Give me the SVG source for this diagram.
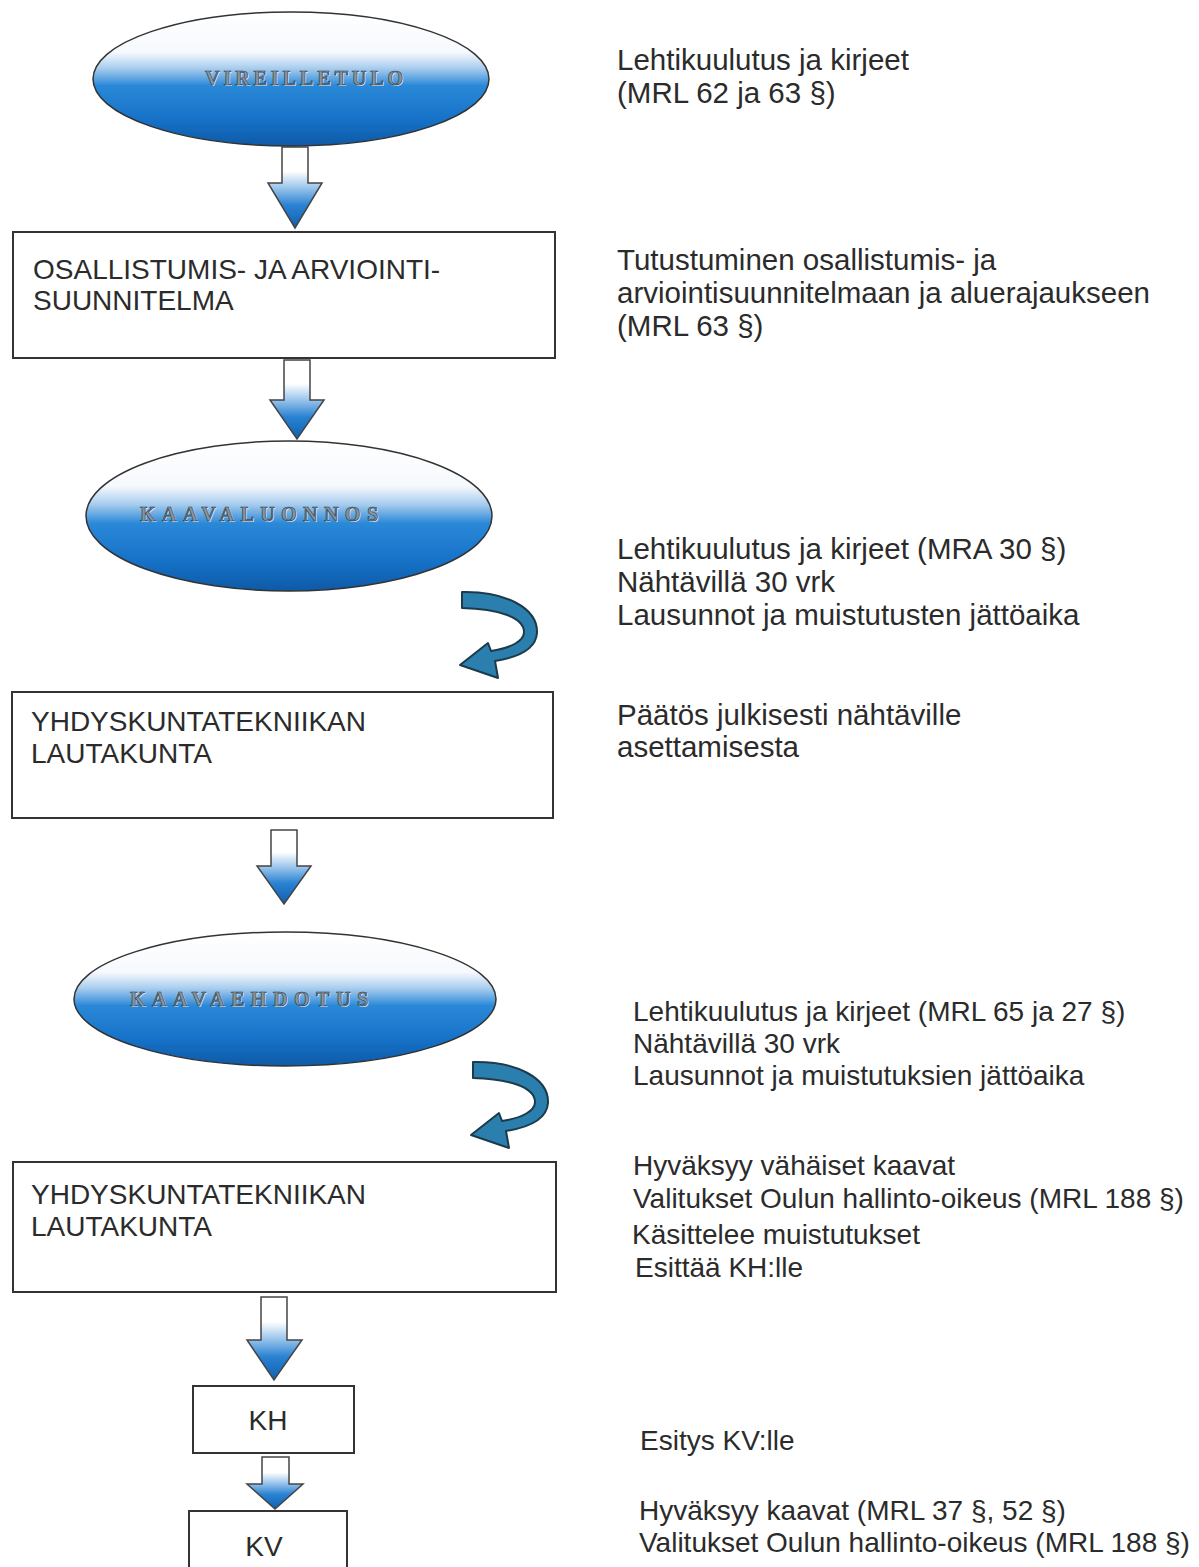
<svg xmlns="http://www.w3.org/2000/svg" width="1199" height="1567" viewBox="0 0 1199 1567">
<defs>
<linearGradient id="ellG" x1="0" y1="0" x2="0" y2="1">
<stop offset="0" stop-color="#ffffff"/>
<stop offset="0.3" stop-color="#f6f9fd"/>
<stop offset="0.42" stop-color="#a9cdee"/>
<stop offset="0.55" stop-color="#2a88d8"/>
<stop offset="0.8" stop-color="#1672c8"/>
<stop offset="1" stop-color="#0e5aa6"/>
</linearGradient>
<linearGradient id="arrG" x1="0" y1="0" x2="0" y2="1">
<stop offset="0" stop-color="#ffffff"/>
<stop offset="0.3" stop-color="#ffffff"/>
<stop offset="0.5" stop-color="#9cc6ec"/>
<stop offset="0.72" stop-color="#2a82d2"/>
<stop offset="1" stop-color="#1060b0"/>
</linearGradient>
<path id="curl" d="M 462 592 C 505 591 538 608 537 633 C 536 648 520 657 495 661 L 498 678 L 460 665 L 488 643 L 491 651 C 511 648 524 641 524 632 C 524 617 498 609 462 608 Z"/>
</defs>
<style>
.box{fill:#ffffff;stroke:#333;stroke-width:2}
.ell{fill:url(#ellG);stroke:#333;stroke-width:1.5}
.arr{fill:url(#arrG);stroke:#444;stroke-width:1.5;stroke-linejoin:miter}
.curl{fill:#2a7fae;stroke:#1d3a4a;stroke-width:2;stroke-linejoin:round}
.bt{font-family:"Liberation Sans",Arial,sans-serif;font-size:28px;fill:#2b2b2b}
.rt{font-family:"Liberation Sans",Arial,sans-serif;font-size:29.5px;fill:#2b2b2b}
.rb{font-family:"Liberation Sans",Arial,sans-serif;font-size:28px;fill:#2b2b2b}
.et{font-family:"Liberation Serif","Times New Roman",serif;font-size:20px;font-weight:bold;fill:#8a949e;stroke:#2e3a46;stroke-width:0.6}
.es{font-family:"Liberation Serif","Times New Roman",serif;font-size:20px;font-weight:bold;fill:#ffffff;opacity:0.75}
</style>
<rect width="1199" height="1567" fill="#ffffff"/>

<g id="connectors">
<polygon class="arr" points="282,147 308,147 308,183 322,183 295,228 268,183 282,183"/>
<polygon class="arr" points="284,360 310,360 310,400 324,400 297,439 270,400 284,400"/>
<polygon class="arr" points="271,830 297,830 297,866 311,866 284,904 257,866 271,866"/>
<polygon class="arr" points="261,1297 287,1297 287,1340 302,1340 274,1380 247,1340 261,1340"/>
<polygon class="arr" points="262,1457 289,1457 289,1484 303,1484 275,1509 247,1484 262,1484"/>
<use href="#curl" class="curl"/>
<use href="#curl" class="curl" transform="translate(11,470)"/>
</g>

<g id="n-vireilletulo">
<ellipse class="ell" cx="291" cy="79" rx="198" ry="67"/>
<text class="es" x="206" y="86" textLength="198" lengthAdjust="spacing">VIREILLETULO</text>
<text class="et" x="205" y="85" textLength="198" lengthAdjust="spacing">VIREILLETULO</text>
</g>

<g id="n-oas">
<rect class="box" x="13" y="232" width="542" height="126"/>
<text class="bt" x="33" y="279">OSALLISTUMIS- JA ARVIOINTI-</text>
<text class="bt" x="33" y="310">SUUNNITELMA</text>
</g>

<g id="n-kaavaluonnos">
<ellipse class="ell" cx="289" cy="516" rx="203" ry="75"/>
<text class="es" x="141" y="522" textLength="238" lengthAdjust="spacing">KAAVALUONNOS</text>
<text class="et" x="140" y="521" textLength="238" lengthAdjust="spacing">KAAVALUONNOS</text>
</g>

<g id="n-ytlk1">
<rect class="box" x="12" y="692" width="541" height="126"/>
<text class="bt" x="31" y="731">YHDYSKUNTATEKNIIKAN</text>
<text class="bt" x="31" y="763">LAUTAKUNTA</text>
</g>

<g id="n-kaavaehdotus">
<ellipse class="ell" cx="285" cy="999" rx="211" ry="67"/>
<text class="es" x="131" y="1007" textLength="238" lengthAdjust="spacing">KAAVAEHDOTUS</text>
<text class="et" x="130" y="1006" textLength="238" lengthAdjust="spacing">KAAVAEHDOTUS</text>
</g>

<g id="n-ytlk2">
<rect class="box" x="13" y="1162" width="543" height="130"/>
<text class="bt" x="31" y="1204">YHDYSKUNTATEKNIIKAN</text>
<text class="bt" x="31" y="1236">LAUTAKUNTA</text>
</g>

<g id="n-kh">
<rect class="box" x="193" y="1386" width="161" height="67"/>
<text class="bt" x="268" y="1430" text-anchor="middle">KH</text>
</g>

<g id="n-kv">
<rect class="box" x="189" y="1511" width="158" height="70"/>
<text class="bt" x="264" y="1556" text-anchor="middle">KV</text>
</g>

<g id="notes">
<text class="rt" x="617" y="70">Lehtikuulutus ja kirjeet</text>
<text class="rt" x="617" y="103">(MRL 62 ja 63 §)</text>
<text class="rt" x="617" y="270">Tutustuminen osallistumis- ja</text>
<text class="rt" x="617" y="303">arviointisuunnitelmaan ja aluerajaukseen</text>
<text class="rt" x="617" y="336">(MRL 63 §)</text>
<text class="rt" x="617" y="559">Lehtikuulutus ja kirjeet (MRA 30 §)</text>
<text class="rt" x="617" y="592">Nähtävillä 30 vrk</text>
<text class="rt" x="617" y="625">Lausunnot ja muistutusten jättöaika</text>
<text class="rt" x="617" y="725">Päätös julkisesti nähtäville</text>
<text class="rt" x="617" y="757">asettamisesta</text>
<text class="rb" x="633" y="1021">Lehtikuulutus ja kirjeet (MRL 65 ja 27 §)</text>
<text class="rb" x="633" y="1053">Nähtävillä 30 vrk</text>
<text class="rb" x="633" y="1085">Lausunnot ja muistutuksien jättöaika</text>
<text class="rb" x="633" y="1175">Hyväksyy vähäiset kaavat</text>
<text class="rb" x="633" y="1208">Valitukset Oulun hallinto-oikeus (MRL 188 §)</text>
<text class="rb" x="632" y="1244">Käsittelee muistutukset</text>
<text class="rb" x="635" y="1277">Esittää KH:lle</text>
<text class="rb" x="640" y="1450">Esitys KV:lle</text>
<text class="rb" x="639" y="1520">Hyväksyy kaavat (MRL 37 §, 52 §)</text>
<text class="rb" x="639" y="1552">Valitukset Oulun hallinto-oikeus (MRL 188 §)</text>
</g>
</svg>
